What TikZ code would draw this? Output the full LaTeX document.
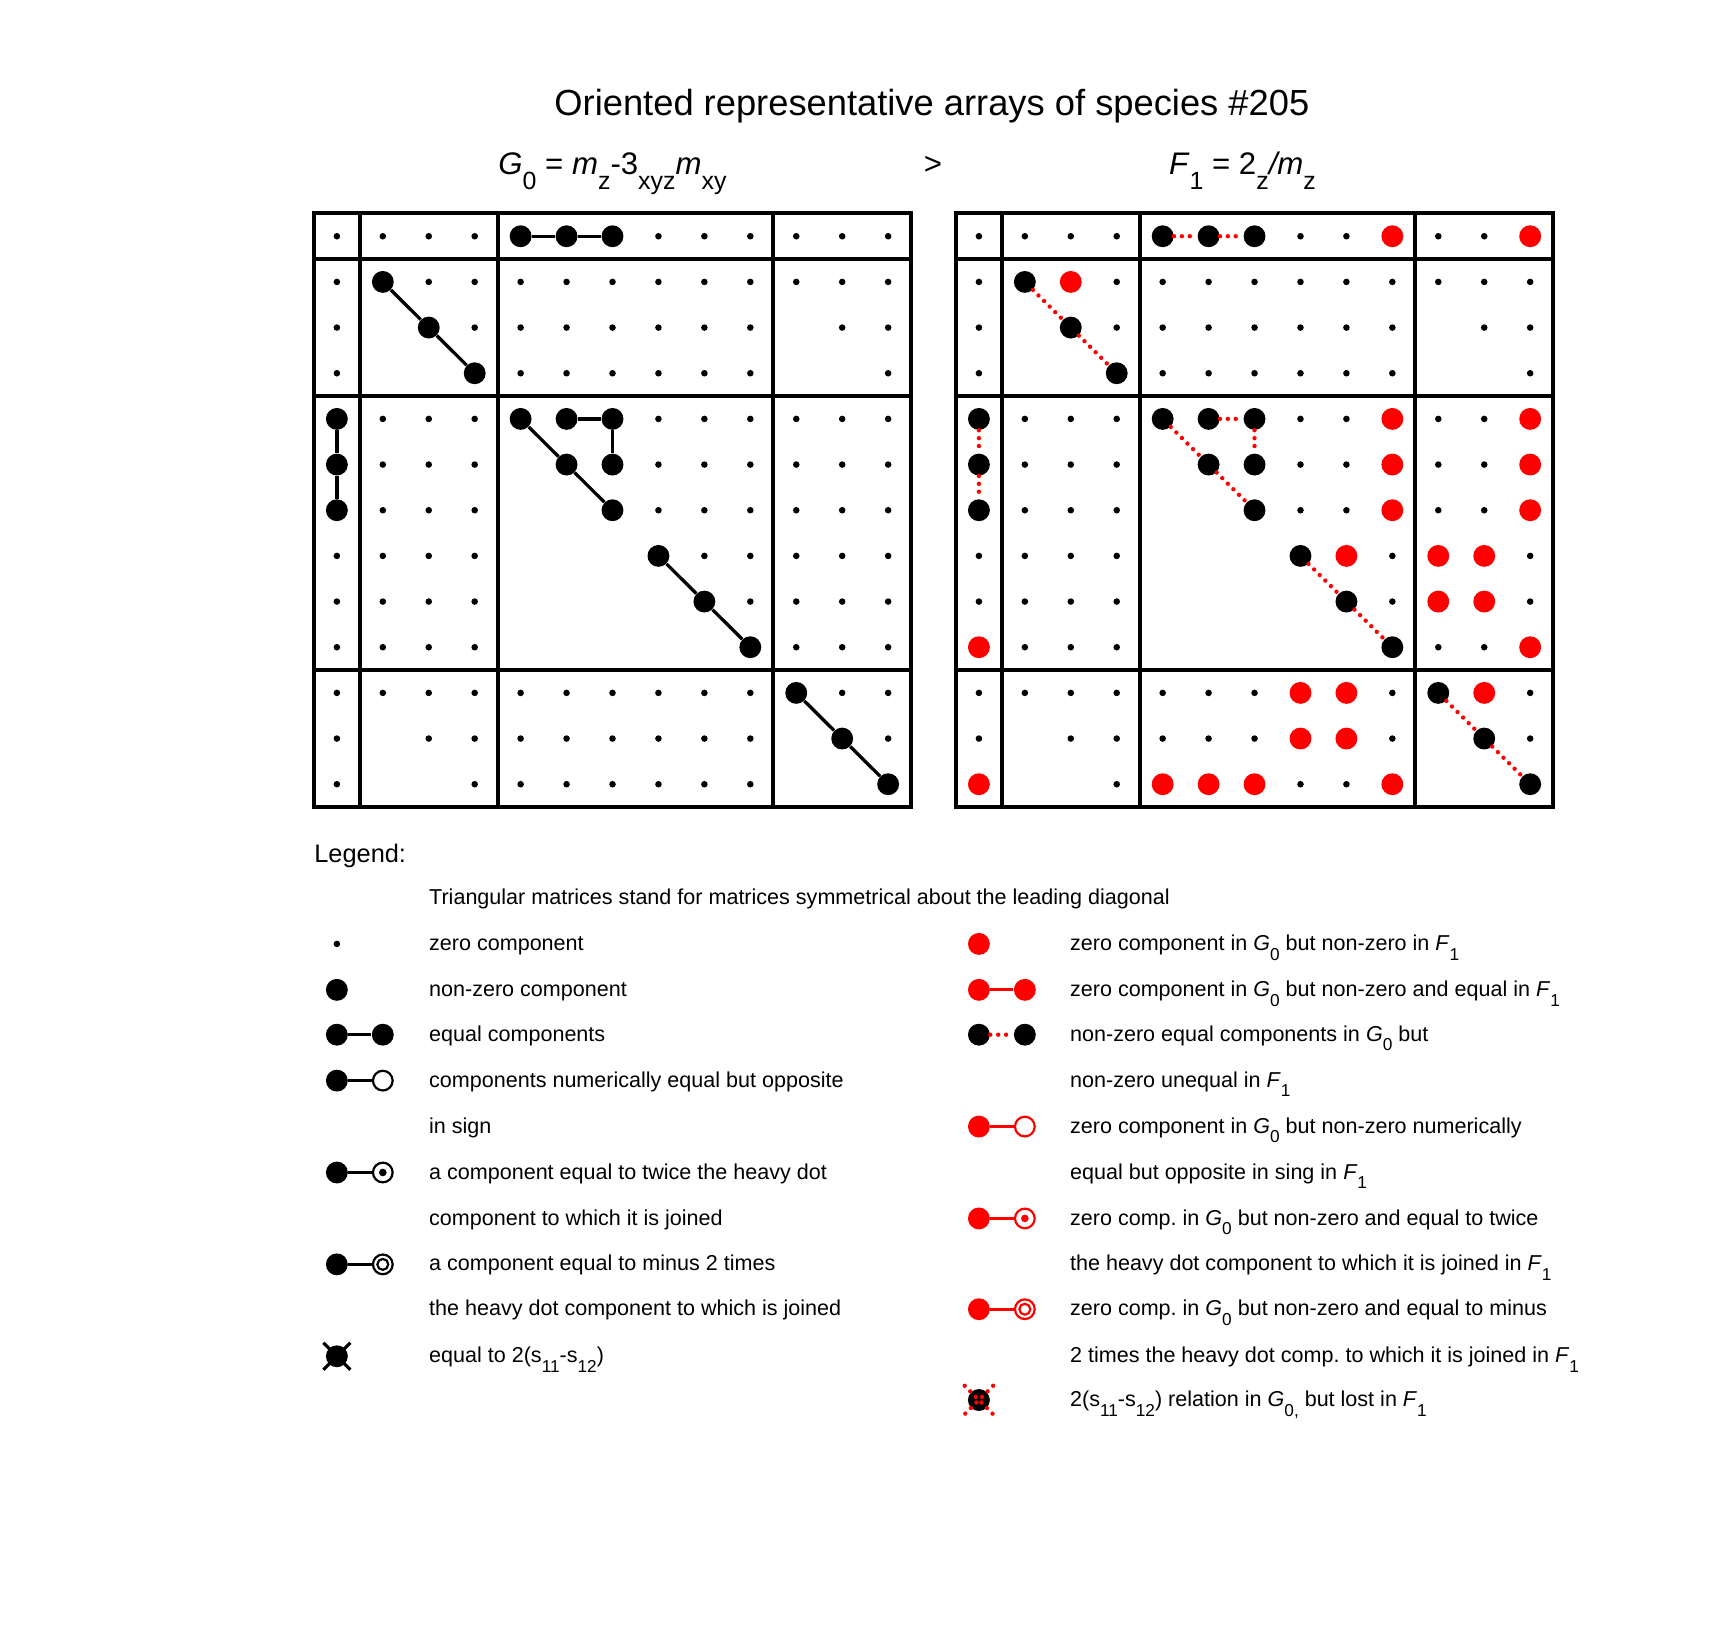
\documentclass[tikz,border=0pt]{standalone}
\usepackage{graphicx}
\usepackage{fontspec}
\setmainfont{Liberation Sans}
\frenchspacing
\newcommand{\subx}[1]{\raisebox{-0.45em}{\scalebox{0.8}{#1}}}
\tikzset{zero/.style={circle, fill, inner sep=0pt, minimum size=3pt},
  nz/.style={circle, fill, inner sep=0pt, minimum size=10pt},
  nzred/.style={nz, fill=red},
  opp/.style={circle, draw, fill=white, inner sep=0pt, minimum size=9pt, line width=1pt},
  eq/.style={line width=1.5pt},
  neq/.style={red, line width=2pt, dash pattern=on 0pt off 3.6pt, line cap=round},
  blockline/.style={line width=1.8pt},
  lbl/.style={anchor=base west, inner sep=0pt, font=\fontsize{9.85pt}{12pt}\selectfont}}
\begin{document}
\begin{tikzpicture}[x=0.5pt, y=-0.5pt]
  \useasboundingbox (0,0) rectangle (1568,1487);
  \node (title) at (852,106) [anchor=base, inner sep=0pt, font=\fontsize{16.6pt}{20pt}\selectfont]
    {Oriented representative arrays of species \#205};
  \node (gname) at (560,160) [anchor=base, inner sep=0pt, font=\fontsize{14.25pt}{17pt}\selectfont]
    {\textit{G}\subx{0} = \textit{m}\subx{z}-3\subx{xyz}\textit{m}\subx{xy}};
  \node (gt) at (853,160) [anchor=base, inner sep=0pt, font=\fontsize{14.25pt}{17pt}\selectfont] {>};
  \node (fname) at (1136,160) [anchor=base, inner sep=0pt, font=\fontsize{14.25pt}{17pt}\selectfont]
    {\textit{F}\subx{1} = 2\subx{z}\textit{/m}\subx{z}};
  \foreach \m/\xo/\lk in {G/266/eq, F/853/neq}{
    \begin{scope}[shift={(\xo,174.25)}, x=21pt, y=-20.875pt]
      \draw[blockline] (0.5,0.5) rectangle (13.5,13.5);
      \foreach \k in {1.5,4.5,10.5}{
        \draw[blockline] (\k,0.5) -- (\k,13.5); \draw[blockline] (0.5,\k) -- (13.5,\k);}
      \foreach \r/\cs in {1/{1,...,13}, 2/{1,...,13}, 3/{1,3,4,...,10,12,13}, 4/{1,4,5,...,10,13},
        5/{1,...,13}, 6/{1,2,3,4,6,7,...,13}, 7/{1,2,3,4,7,8,...,13}, 8/{1,2,3,4,8,9,...,13},
        9/{1,2,3,4,9,10,...,13}, 10/{1,2,3,4,10,11,12,13}, 11/{1,...,13},
        12/{1,3,4,...,10,12,13}, 13/{1,4,5,...,10,13}}
        \foreach \c in \cs \node (\m-\r-\c) at (\c,\r) [zero] {};
      \foreach \r/\c in {1/5, 1/6, 1/7, 2/2, 3/3, 4/4, 5/1, 6/1, 7/1, 5/5, 5/6, 5/7, 6/6, 6/7,
        7/7, 8/8, 9/9, 10/10, 11/11, 12/12, 13/13}
        \node (\m n\r-\c) at (\c,\r) [nz] {};
      \draw[\lk] (\m n1-5) -- (\m n1-6) -- (\m n1-7);
      \draw[\lk] (\m n2-2) -- (\m n3-3) -- (\m n4-4);
      \draw[\lk] (\m n5-1) -- (\m n6-1) -- (\m n7-1);
      \draw[\lk] (\m n5-5) -- (\m n6-6) -- (\m n7-7);
      \draw[\lk] (\m n5-6) -- (\m n5-7) -- (\m n6-7);
      \draw[\lk] (\m n8-8) -- (\m n9-9) -- (\m n10-10);
      \draw[\lk] (\m n11-11) -- (\m n12-12) -- (\m n13-13);
    \end{scope}}
  \begin{scope}[shift={(853,174.25)}, x=21pt, y=-20.875pt]
    \foreach \r/\c in {1/10, 1/13, 2/3, 5/10, 5/13, 6/10, 6/13, 7/10, 7/13, 8/9, 8/11, 8/12,
      9/11, 9/12, 10/1, 10/13, 11/8, 11/9, 11/12, 12/8, 12/9, 13/1, 13/5, 13/6, 13/7, 13/10}
      \node (Fr\r-\c) at (\c,\r) [nzred] {};
  \end{scope}
  \node (legend) at (287,789) [anchor=base west, inner sep=0pt, font=\fontsize{11.6pt}{14pt}\selectfont] {Legend:};
  \node (t0) at (392,827) [lbl] {Triangular matrices stand for matrices symmetrical about the leading diagonal};
  \node (za) at (308,863) [zero] {}; \node (t1) at (392,869) [lbl] {zero component};
  \node (na) at (308,905) [nz] {}; \node (t2) at (392,911) [lbl] {non-zero component};
  \node (ea) at (308,946) [nz] {}; \node (eb) at (350,946) [nz] {}; \draw[eq] (ea) -- (eb);
  \node (t3) at (392,952) [lbl] {equal components};
  \node (oa) at (308,988) [nz] {}; \node (ob) at (350,988) [opp] {}; \draw[eq] (oa) -- (ob);
  \node (t4) at (392,994) [lbl] {components numerically equal but opposite};
  \node (t5) at (392,1036) [lbl] {in sign};
  \node (wa) at (308,1072) [nz] {}; \node (wb) at (350,1072) [opp] {}; \draw[eq] (wa) -- (wb);
  \node (wc) at (wb) [zero, minimum size=3.5pt] {};
  \node (t6) at (392,1078) [lbl] {a component equal to twice the heavy dot};
  \node (t7) at (392,1120) [lbl] {component to which it is joined};
  \node (ma) at (308,1156) [nz] {}; \node (mb) at (350,1156) [opp] {}; \draw[eq] (ma) -- (mb);
  \node (mc) at (mb) [opp, minimum size=5pt] {};
  \node (t8) at (392,1162) [lbl] {a component equal to minus 2 times};
  \node (t9) at (392,1203) [lbl] {the heavy dot component to which is joined};
  \node (xa) at (308,1240) [nz] {}; \node (xs) at (308,1240) [circle, inner sep=0pt, minimum size=17pt] {};
  \draw[eq] (xs.north west) -- (xs.south east); \draw[eq] (xs.north east) -- (xs.south west);
  \node (t10) at (392,1246) [lbl] {equal to 2(s\subx{11}-s\subx{12})};
  \node (rz) at (895,863) [nzred] {};
  \node (r1) at (978,869) [lbl] {zero component in \textit{G}\subx{0} but non-zero in \textit{F}\subx{1}};
  \node (rea) at (895,905) [nzred] {}; \node (reb) at (937,905) [nzred] {}; \draw[eq, red] (rea) -- (reb);
  \node (r2) at (978,911) [lbl] {zero component in \textit{G}\subx{0} but non-zero and equal in \textit{F}\subx{1}};
  \node (rna) at (895,946) [nz] {}; \node (rnb) at (937,946) [nz] {}; \draw[neq] (rna) -- (rnb);
  \node (r3) at (978,952) [lbl] {non-zero equal components in \textit{G}\subx{0} but};
  \node (r4) at (978,994) [lbl] {non-zero unequal in \textit{F}\subx{1}};
  \node (roa) at (895,1030) [nzred] {}; \node (rob) at (937,1030) [opp, draw=red] {}; \draw[eq, red] (roa) -- (rob);
  \node (r5) at (978,1036) [lbl] {zero component in \textit{G}\subx{0} but non-zero numerically};
  \node (r6) at (978,1078) [lbl] {equal but opposite in sing in \textit{F}\subx{1}};
  \node (rwa) at (895,1114) [nzred] {}; \node (rwb) at (937,1114) [opp, draw=red] {}; \draw[eq, red] (rwa) -- (rwb);
  \node (rwc) at (rwb) [zero, red, minimum size=3.5pt] {};
  \node (r7) at (978,1120) [lbl] {zero comp. in \textit{G}\subx{0} but non-zero and equal to twice};
  \node (r8) at (978,1162) [lbl] {the heavy dot component to which it is joined in \textit{F}\subx{1}};
  \node (rma) at (895,1197) [nzred] {}; \node (rmb) at (937,1197) [opp, draw=red] {}; \draw[eq, red] (rma) -- (rmb);
  \node (rmc) at (rmb) [opp, draw=red, minimum size=5pt] {};
  \node (r9) at (978,1203) [lbl] {zero comp. in \textit{G}\subx{0} but non-zero and equal to minus};
  \node (r10) at (978,1246) [lbl] {2 times the heavy dot comp. to which it is joined in \textit{F}\subx{1}};
  \node (rxa) at (895,1280) [nz] {}; \node (rxs) at (895,1280) [circle, inner sep=0pt, minimum size=18pt] {};
  \draw[neq] (rxs.north west) -- (rxs.south east); \draw[neq] (rxs.north east) -- (rxs.south west);
  \node (r11) at (978,1286) [lbl] {2(s\subx{11}-s\subx{12}) relation in \textit{G}\subx{0,} but lost in \textit{F}\subx{1}};
\end{tikzpicture}
\end{document}
